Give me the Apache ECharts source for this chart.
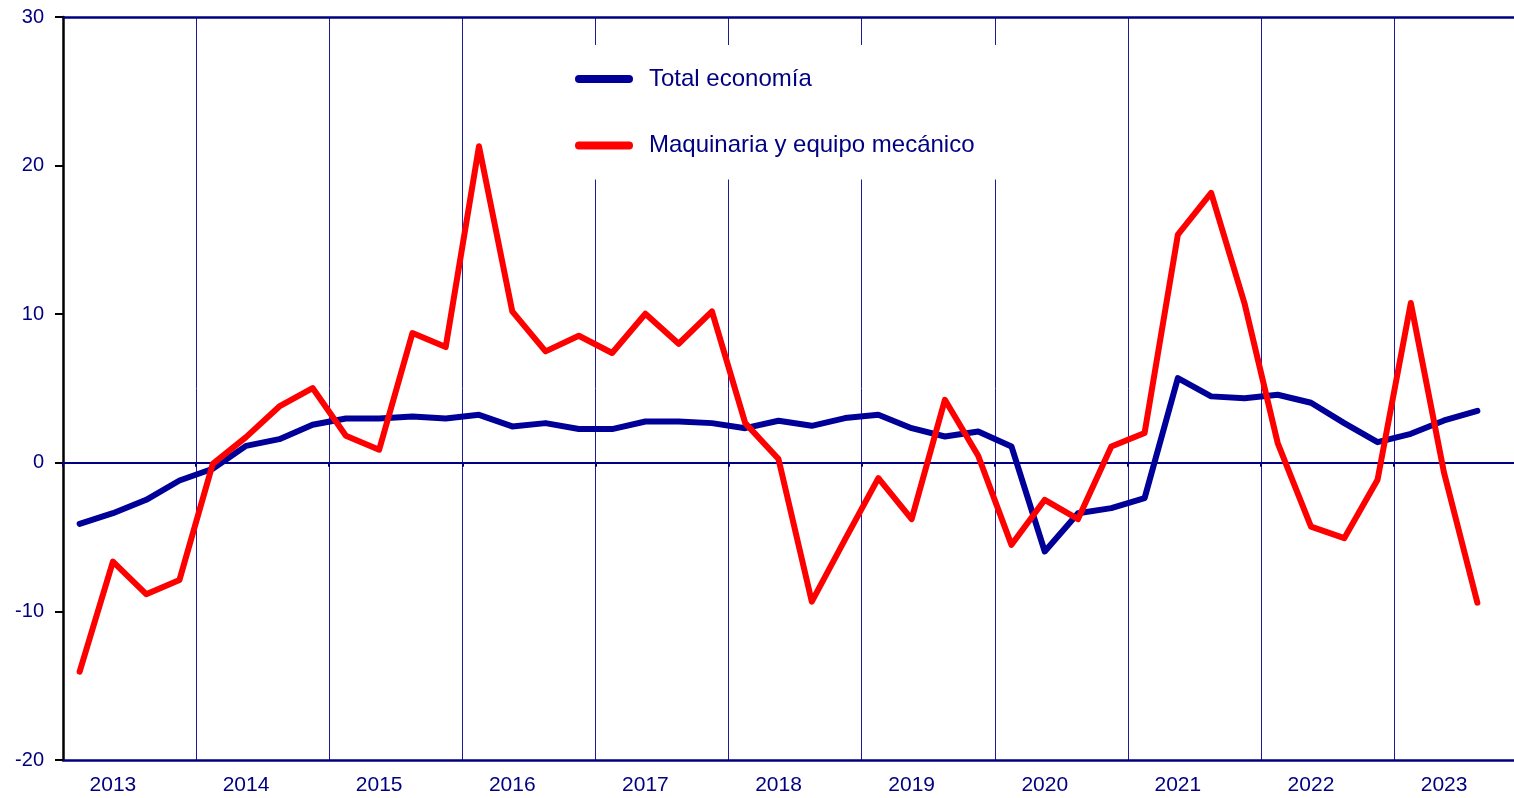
<!DOCTYPE html>
<html>
<head>
<meta charset="utf-8">
<script src="https://cdn.jsdelivr.net/npm/echarts@6/dist/echarts.min.js"></script>
<style>
html,body{margin:0;padding:0;background:#fff;overflow:hidden;}
#chart{width:1530px;height:798px;}
</style>
</head>
<body>
<div id="chart"></div>
<script>
// Years shown on the x axis (label sits on the 2nd quarter of each year)
const years = ['2013','2014','2015','2016','2017','2018','2019','2020','2021','2022','2023'];
const quartersPerYear = 4;
// Y axis ticks
const yTicks = [-20, -10, 0, 10, 20, 30];

const seriesNames = ['Total economía', 'Maquinaria y equipo mecánico'];

// Quarterly values 2013 T1 .. 2023 T3
const totalEconomia = [
  -4.11, -3.39, -2.49, -1.19,
  -0.40, 1.14, 1.59, 2.56,
  2.98, 2.98, 3.12, 2.98,
  3.23, 2.45, 2.67, 2.27,
  2.27, 2.78, 2.78, 2.67,
  2.33, 2.83, 2.49, 3.01,
  3.23, 2.33, 1.77, 2.11,
  1.10, -5.97, -3.39, -3.05,
  -2.38, 5.70, 4.47, 4.35,
  4.58, 4.04, 2.67, 1.39,
  1.95, 2.85, 3.50
];
const maquinaria = [
  -14.05, -6.65, -8.84, -7.88,
  -0.07, 1.73, 3.79, 5.03,
  1.82, 0.88, 8.73, 7.79,
  21.3, 10.19, 7.50, 8.55,
  7.39, 10.03, 8.01, 10.19,
  2.67, 0.25, -9.34, -5.15,
  -1.03, -3.79, 4.24, 0.47,
  -5.52, -2.49, -3.79, 1.10,
  2.00, 15.35, 18.16, 10.75,
  1.33, -4.29, -5.07, -1.14,
  10.75, -0.69, -9.41
];

// Build quarter categories (full years, last quarter of 2023 left empty)
const categories = [];
years.forEach(y => { for (let q = 1; q <= quartersPerYear; q++) categories.push(y + ' T' + q); });

const navy = '#000080';
const font = '"Liberation Sans", Arial, sans-serif';
const yearBoundary = (idx) => idx % quartersPerYear === 0;

const chart = echarts.init(document.getElementById('chart'), null, {renderer: 'canvas'});
chart.setOption({
  animation: false,
  backgroundColor: '#fff',
  grid: {left: 63, top: 17, width: 1464.3, height: 743, containLabel: false},
  legend: {
    orient: 'vertical',
    left: 553, top: 45,
    padding: [22, 30, 22, 22],
    backgroundColor: '#fff',
    itemWidth: 58, itemHeight: 8,
    itemGap: 42.6,
    icon: 'path://M4,0 L54,0 A4,4 0 0 1 54,8 L4,8 A4,4 0 0 1 4,0 Z',
    textStyle: {color: navy, fontSize: 24, fontFamily: font, lineHeight: 24, padding: [0, 0, 0, 11]},
    data: seriesNames
  },
  xAxis: [
    {
      type: 'category', data: categories, position: 'bottom', boundaryGap: true,
      axisLine: {onZero: false, lineStyle: {color: navy, width: 2.5}},
      axisTick: {show: false},
      axisLabel: {
        interval: 0, color: navy, fontSize: 21, fontFamily: font, margin: 15,
        formatter: (v, idx) => (idx % quartersPerYear === 1 ? years[Math.floor(idx / quartersPerYear)] : '')
      },
      splitLine: {show: true, interval: yearBoundary, lineStyle: {color: '#1a1a9a', width: 1}}
    },
    {
      type: 'category', data: categories, position: 'top', boundaryGap: true,
      axisLine: {onZero: false, lineStyle: {color: navy, width: 2.5}},
      axisTick: {show: false}, axisLabel: {show: false}, splitLine: {show: false}
    },
    {
      type: 'category', data: categories, position: 'bottom', boundaryGap: true,
      axisLine: {onZero: true, lineStyle: {color: navy, width: 2}},
      axisTick: {show: true, interval: yearBoundary, length: 4, lineStyle: {color: navy, width: 2}},
      axisLabel: {show: false}, splitLine: {show: false}
    }
  ],
  yAxis: {
    type: 'value', min: yTicks[0], max: yTicks[yTicks.length - 1], interval: 10,
    axisLine: {show: true, lineStyle: {color: '#000', width: 2.5}},
    axisTick: {show: true, length: 8, lineStyle: {color: '#000', width: 2}},
    axisLabel: {color: navy, fontSize: 20, fontFamily: font, margin: 19},
    splitLine: {show: false}
  },
  series: [
    {
      name: seriesNames[0], type: 'line', xAxisIndex: 0, data: totalEconomia,
      symbol: 'none', z: 3,
      lineStyle: {color: '#000099', width: 6, cap: 'round', join: 'round'},
      itemStyle: {color: '#000099'}
    },
    {
      name: seriesNames[1], type: 'line', xAxisIndex: 0, data: maquinaria,
      symbol: 'none', z: 4,
      lineStyle: {color: '#ff0000', width: 6, cap: 'round', join: 'round'},
      itemStyle: {color: '#ff0000'}
    }
  ]
});
</script>
</body>
</html>
